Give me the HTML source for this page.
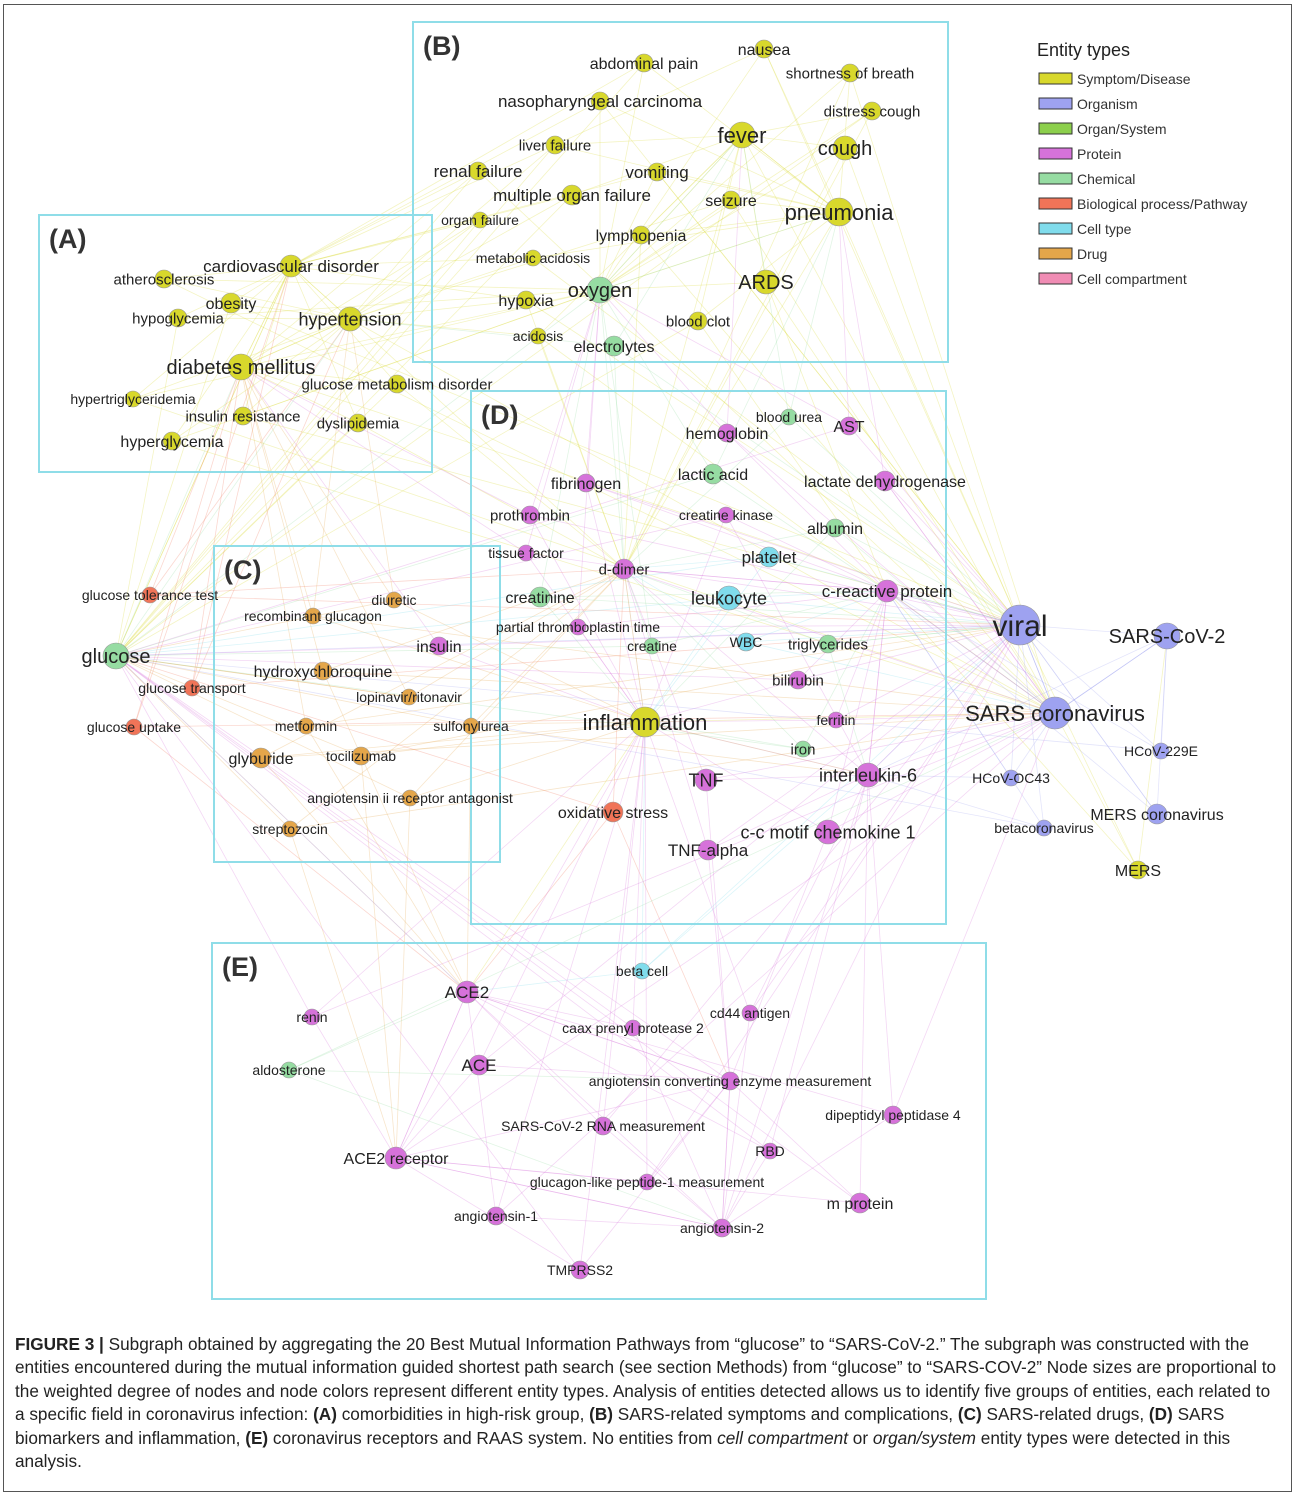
<!DOCTYPE html>
<html><head><meta charset="utf-8">
<style>
html,body{margin:0;padding:0;background:#fff}
body{width:1296px;height:1497px;position:relative;overflow:hidden;font-family:"Liberation Sans",Arial,sans-serif}
#frame{position:absolute;left:3px;top:4px;width:1287px;height:1486px;border:1px solid #555}
#caption{position:absolute;left:15px;top:1333px;width:1266px;font-size:17.2px;line-height:23.4px;color:#222}
svg{position:absolute;left:0;top:0}
</style></head>
<body>
<div id="frame"></div>
<svg id="net" width="1296" height="1330"></svg>
<div id="caption"><b>FIGURE 3 |</b> Subgraph obtained by aggregating the 20 Best Mutual Information Pathways from “glucose” to “SARS-CoV-2.” The subgraph was constructed with the entities encountered during the mutual information guided shortest path search (see section Methods) from “glucose” to “SARS-COV-2” Node sizes are proportional to the weighted degree of nodes and node colors represent different entity types. Analysis of entities detected allows us to identify five groups of entities, each related to a specific field in coronavirus infection: <b>(A)</b> comorbidities in high-risk group, <b>(B)</b> SARS-related symptoms and complications, <b>(C)</b> SARS-related drugs, <b>(D)</b> SARS biomarkers and inflammation, <b>(E)</b> coronavirus receptors and RAAS system. No entities from <i>cell compartment</i> or <i>organ/system</i> entity types were detected in this analysis.</div>
<script>
const typeNames=["Symptom/Disease","Organism","Organ/System","Protein","Chemical","Biological process/Pathway","Cell type","Drug","Cell compartment"];
const typeColors=["#d8d82c","#9ea2f0","#8ccf4c","#d672da","#96dca2","#f07458","#80dcec","#e4a64a","#f08cb4"];
const typeCodes={S:0,O:1,G:2,P:3,C:4,B:5,T:6,D:7,X:8};
// [label, x, y, type, radius, fontSize]
const nodes=[
["nausea",764,49,"S",9,16],["abdominal pain",644,63,"S",9,16],["shortness of breath",850,73,"S",9,15],
["nasopharyngeal carcinoma",600,101,"S",9,17],["distress cough",872,111,"S",9,15],["fever",742,135,"S",13,22],
["cough",845,148,"S",12,20],["liver failure",555,145,"S",9,15],["renal failure",478,171,"S",9,17],
["vomiting",657,172,"S",9,17],["multiple organ failure",572,195,"S",10,17],["seizure",731,200,"S",9,16],
["pneumonia",839,212,"S",14,22],["organ failure",480,220,"S",8,14],["lymphopenia",641,235,"S",9,16],
["metabolic acidosis",533,258,"S",8,14],["oxygen",600,290,"C",13,20],["ARDS",766,282,"S",12,20],
["hypoxia",526,300,"S",9,16],["blood clot",698,321,"S",9,15],["acidosis",538,336,"S",8,14],["electrolytes",614,346,"C",10,16],
["cardiovascular disorder",291,266,"S",11,17],["atherosclerosis",164,279,"S",9,15],["obesity",231,303,"S",10,16],
["hypoglycemia",178,318,"S",9,15],["hypertension",350,319,"S",12,18],["diabetes mellitus",241,367,"S",13,20],
["glucose metabolism disorder",397,384,"S",9,15],["hypertriglyceridemia",133,399,"S",8,14],["insulin resistance",243,416,"S",9,15],
["dyslipidemia",358,423,"S",9,15],["hyperglycemia",172,441,"S",9,16],
["glucose tolerance test",150,595,"B",8,14],["diuretic",394,600,"D",8,14],["recombinant glucagon",313,616,"D",8,14],
["insulin",439,646,"P",9,16],["glucose",116,656,"C",13,20],["hydroxychloroquine",323,671,"D",9,16],
["glucose transport",192,688,"B",8,14],["lopinavir/ritonavir",409,697,"D",8,14],["glucose uptake",134,727,"B",8,14],
["metformin",306,726,"D",8,14],["sulfonylurea",471,726,"D",8,14],["glyburide",261,758,"D",10,16],
["tocilizumab",361,756,"D",9,14],["angiotensin ii receptor antagonist",410,798,"D",8,14],["streptozocin",290,829,"D",8,14],
["blood urea",789,417,"C",8,14],["AST",849,426,"P",9,16],["hemoglobin",727,433,"P",9,16],["fibrinogen",586,483,"P",9,16],
["lactic acid",713,474,"C",10,16],["lactate dehydrogenase",885,481,"P",10,16],["prothrombin",530,515,"P",9,15],
["creatine kinase",726,515,"P",8,14],["albumin",835,528,"C",9,16],["tissue factor",526,553,"P",8,14],
["platelet",769,557,"T",10,17],["d-dimer",624,569,"P",10,15],["creatinine",540,597,"C",10,16],
["leukocyte",729,598,"T",12,18],["c-reactive protein",887,591,"P",11,17],["partial thromboplastin time",578,627,"P",8,14],
["creatine",652,646,"C",8,14],["WBC",746,642,"T",9,14],["triglycerides",828,644,"C",9,15],["bilirubin",798,680,"P",9,15],
["inflammation",645,722,"S",15,22],["ferritin",836,720,"P",8,14],["iron",803,749,"C",8,15],["TNF",706,780,"P",11,18],
["interleukin-6",868,775,"P",12,18],["oxidative stress",613,812,"B",10,16],["c-c motif chemokine 1",828,832,"P",12,18],
["TNF-alpha",708,850,"P",10,17],
["viral",1020,625,"O",20,30],["SARS-CoV-2",1167,636,"O",13,20],["SARS coronavirus",1055,713,"O",16,22],
["HCoV-229E",1161,751,"O",8,14],["HCoV-OC43",1011,778,"O",8,14],["MERS coronavirus",1157,814,"O",10,16],
["betacoronavirus",1044,828,"O",8,14],["MERS",1138,870,"S",9,16],
["beta cell",642,971,"T",8,14],["ACE2",467,992,"P",11,17],["renin",312,1017,"P",8,14],["cd44 antigen",750,1013,"P",8,14],
["caax prenyl protease 2",633,1028,"P",8,14],["aldosterone",289,1070,"C",8,14],["ACE",479,1065,"P",10,17],
["angiotensin converting enzyme measurement",730,1081,"P",9,14],["dipeptidyl peptidase 4",893,1115,"P",9,14],
["SARS-CoV-2 RNA measurement",603,1126,"P",9,14],["RBD",770,1151,"P",8,14],["ACE2 receptor",396,1158,"P",11,16],
["glucagon-like peptide-1 measurement",647,1182,"P",8,14],["m protein",860,1203,"P",10,16],["angiotensin-1",496,1216,"P",9,14],
["angiotensin-2",722,1228,"P",9,14],["TMPRSS2",580,1270,"P",9,14]
];
// group boxes: [label, x1, y1, x2, y2]
const boxes=[["(A)",39,215,432,472],["(B)",413,22,948,362],["(C)",214,546,500,862],["(D)",471,391,946,924],["(E)",212,943,986,1299]];
const hubs=["glucose","diabetes mellitus","hypertension","fever","inflammation","viral","SARS-CoV-2","SARS coronavirus","ACE2","ACE2 receptor","c-reactive protein","interleukin-6","d-dimer","cardiovascular disorder","angiotensin converting enzyme measurement","pneumonia","oxygen","angiotensin-2"];
const NS="http://www.w3.org/2000/svg";
const svg=document.getElementById("net");
const idx={};nodes.forEach((n,i)=>idx[n[0]]=i);
const eg=document.createElementNS(NS,"g");


svg.appendChild(eg);
function addEdge(a,b){
  const A=nodes[idx[a]],B=nodes[idx[b]];if(!A||!B||A===B)return;
  const l=document.createElementNS(NS,"line");
  
  
  l.setAttribute("x1",A[1]);l.setAttribute("y1",A[2]);l.setAttribute("x2",B[1]);l.setAttribute("y2",B[2]);
  l.setAttribute("stroke",typeColors[typeCodes[A[3]]]);l.setAttribute("stroke-width","0.8");l.setAttribute("opacity","0.28");
  eg.appendChild(l);
}
nodes.forEach((n,i)=>{
  const sorted=hubs.map(h=>[h,Math.hypot(nodes[idx[h]][1]-n[1],nodes[idx[h]][2]-n[2])]).sort((a,b)=>a[1]-b[1]);
  addEdge(n[0],sorted[1][0]);addEdge(n[0],sorted[2][0]);addEdge(n[0],sorted[4][0]);
  addEdge(n[0],i%3==0?"viral":(i%3==1?"glucose":"SARS coronavirus"));
});
boxes.forEach(b=>{
  const r=document.createElementNS(NS,"rect");
  
  
  r.setAttribute("x",b[1]);r.setAttribute("y",b[2]);r.setAttribute("width",b[3]-b[1]);r.setAttribute("height",b[4]-b[2]);
  r.setAttribute("fill","none");r.setAttribute("stroke","#8fdde8");r.setAttribute("stroke-width","2");
  svg.appendChild(r);
  const t=document.createElementNS(NS,"text");
  
  
  t.setAttribute("x",b[1]+10);t.setAttribute("y",b[2]+33);t.setAttribute("font-size","27");t.setAttribute("font-weight","bold");t.setAttribute("fill","#333");
  t.textContent=b[0];svg.appendChild(t);
});
nodes.forEach(n=>{
  const c=document.createElementNS(NS,"circle");
  
  
  c.setAttribute("cx",n[1]);c.setAttribute("cy",n[2]);c.setAttribute("r",n[4]);
  c.setAttribute("fill",typeColors[typeCodes[n[3]]]);c.setAttribute("stroke","#999");c.setAttribute("stroke-width","0.6");
  svg.appendChild(c);
});
nodes.forEach(n=>{
  const t=document.createElementNS(NS,"text");
  
  
  t.setAttribute("x",n[1]);t.setAttribute("y",n[2]+n[5]*0.36);t.setAttribute("text-anchor","middle");
  t.setAttribute("font-size",n[5]);t.setAttribute("fill","#222");
  t.textContent=n[0];svg.appendChild(t);
});
const lt=document.createElementNS(NS,"text");


lt.setAttribute("x",1037);lt.setAttribute("y",56);lt.setAttribute("font-size","18");lt.setAttribute("fill","#222");
lt.textContent="Entity types";svg.appendChild(lt);
typeNames.forEach((name,i)=>{
  const y=79+i*25;
  const r=document.createElementNS(NS,"rect");
  
  
  r.setAttribute("x",1039);r.setAttribute("y",y-6);r.setAttribute("width",33);r.setAttribute("height",11);
  r.setAttribute("fill",typeColors[i]);r.setAttribute("stroke","#333");r.setAttribute("stroke-width","1");
  svg.appendChild(r);
  const t=document.createElementNS(NS,"text");
  
  
  t.setAttribute("x",1077);t.setAttribute("y",y+5);t.setAttribute("font-size","14");t.setAttribute("fill","#333");
  t.textContent=name;svg.appendChild(t);
});
</script>
</body></html>
